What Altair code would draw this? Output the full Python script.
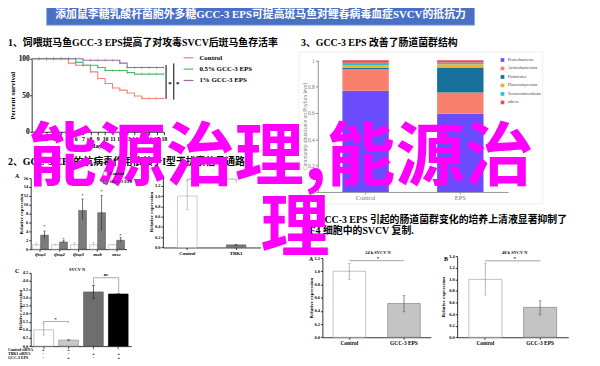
import altair as alt
import pandas as pd

W, H = 592, 358
PAGE_MARGIN = 8


def X(v):
    return v - PAGE_MARGIN


def Y(v):
    return v - PAGE_MARGIN


SERIF = "Liberation Serif"
MIX = "Liberation Serif, Noto Sans CJK SC"
CJK = "Noto Sans CJK SC"

# ------------------------------------------------------------------ texts
banner_text = "添加鼠李糖乳酸杆菌胞外多糖GCC-3 EPS可提高斑马鱼对鲤春病毒血症SVCV的抵抗力"
title_1 = "1、饲喂斑马鱼GCC-3 EPS提高了对攻毒SVCV后斑马鱼存活率"
title_2 = "2、GCC-3 EPS的抗病毒作用依赖于I型干扰素信号通路"
title_3 = "3、GCC-3 EPS 改善了肠道菌群结构"
title_4a = "4、GCC-3 EPS 引起的肠道菌群变化的培养上清液显著抑制了"
title_4b = "ZF4 细胞中的SVCV 复制."
overlay_1 = "能源治理,能源治"
overlay_2 = "理"

# ------------------------------------------------------------------ 1. survival
surv_series = ["Control", "0.5% GCC-3 EPS", "1% GCC-3 EPS"]
ctrl_days = [0, 5, 6, 8, 9, 10, 11, 12, 13, 14, 15, 18]
ctrl_surv = [100, 94, 91, 82, 73, 66, 60, 57, 53, 49, 45.5, 45.5]
low_days = [0, 6, 7, 9, 10, 13, 14, 18]
low_surv = [100, 95, 91, 88, 84, 81, 79, 79]
high_days = [0, 7, 12, 13, 18]
high_surv = [100, 98, 94, 88, 88]
day_ticks = list(range(1, 19))
sig_days = [18.3, 19.35]
sig_low = [45, 44]
sig_high = [91.5, 93.6]
star_days = [18.83, 19.9]
star_vals = [66, 66]

# ------------------------------------------------------------------ 3. phylum
phyla = ["Proteobacteria", "Actinobacteriota", "Firmicutes",
         "Planctomycetota", "Verrucomicrobiota", "others"]
samples = ["Control", "EPS"]
ctrl_phylum = [0.768, 0.165, 0.010, 0.020, 0.017, 0.020]
eps_phylum = [0.593, 0.162, 0.190, 0.025, 0.013, 0.017]

# ------------------------------------------------------------------ 2A. ifn genes
genes = ["ifnφ1", "ifnφ2", "ifnφ3", "mxb", "mxc"]
gene_groups = ["Control", "GCC-3 EPS"]
ifn_ctrl = [1.0, 1.0, 1.0, 1.0, 1.0]
ifn_ctrl_lo = [0.6, 0.85, 0.6, 0.6, 0.95]
ifn_ctrl_hi = [1.4, 1.15, 1.45, 1.5, 1.05]
ifn_eps = [3.15, 1.6, 8.7, 8.2, 2.0]
ifn_eps_lo = [2.4, 1.4, 6.6, 4.1, 1.7]
ifn_eps_hi = [4.1, 1.9, 11.3, 12.1, 2.6]
ifn_star = [5.2, 2.3, 12.3, 13.1, 3.2]

# ------------------------------------------------------------------ 2B. TBK1
tbk_cats = ["Control", "TBK1"]
tbk_vals = [1.0, 0.05]
tbk_lo = [0.73, 0.04]
tbk_hi = [1.30, 0.06]
tbk_bracket = [1.30, 1.33, 1.33, 1.26]

# ------------------------------------------------------------------ 2C. SVCV N with siRNA
lanes = ["1", "2", "3", "4"]
svcv_c = [1.0, 0.37, 3.33, 3.2]
svcv_c_lo = [0.68, 0.33, 2.93, 3.2]
svcv_c_hi = [1.37, 0.42, 3.73, 3.2]
star_bracket_c = [1.40, 1.51, 1.51, 1.40]
ns_bracket_c = [3.78, 4.2, 4.2, 3.25]
sig_c_lanes = ["1", "3"]
sig_c_vals = [1.62, 4.38]
sig_c_text = ["*", "ns"]
row_names = ["Control siRNA", "TBK1 siRNA", "GCC-3 EPS"]
row_ctrl_sirna = ["+", "+", "-", "-"]
row_tbk1_sirna = ["-", "-", "+", "+"]
row_eps = ["-", "+", "-", "+"]

# ------------------------------------------------------------------ 4. supernatant
sup_cats = ["Control", "GCC-3 EPS"]
sup24 = [1.0, 0.51]
sup24_lo = [0.875, 0.385]
sup24_hi = [1.12, 0.63]
sup24_bracket = 1.16
sup48 = [1.0, 0.517]
sup48_lo = [0.73, 0.385]
sup48_hi = [1.28, 0.63]
sup48_bracket = 1.32

# ------------------------------------------------------------------ styles
surv_colors = ["#f0837a", "#4dbb66", "#9a6aa6"]
phy_colors = ["#6c4dfb", "#f8806c", "#16719d", "#f6b12b", "#22c6d3", "#ee4a4e"]


def txt(text, x, y, size, color="black", align="left", weight="bold", font=MIX,
        angle=0, baseline="middle", style="normal"):
    df = pd.DataFrame({"t": [text]})
    return alt.Chart(df).mark_text(
        align=align, baseline=baseline, font=font, fontSize=size, fontWeight=weight,
        color=color, angle=angle, fontStyle=style
    ).encode(x=alt.value(X(x)), y=alt.value(Y(y)), text="t:N")


def y_axis(xpos, values, title, fmt, lsize=4.5, tsize=5, tpad=0.0, color="black",
           weight="bold", tick=2, lpad=1.0):
    return alt.Axis(
        orient="left", offset=-X(xpos), values=values, format=fmt, title=title,
        grid=False, domainColor=color, tickColor=color, labelColor=color, titleColor=color,
        labelFont=SERIF, labelFontSize=lsize, labelFontWeight=weight, titleFont=SERIF,
        titleFontSize=tsize, titleFontWeight=weight, titlePadding=tpad, tickSize=tick,
        labelPadding=lpad, domainWidth=0.8, tickWidth=0.8, labelOverlap=False,
        labelFlush=False, zindex=0)


def x_axis(ypos, title=None, values=None, labels=True, lsize=5.0, tsize=6, tpad=1.0,
           color="black", weight="bold", tick=2, lpad=1.0, style="normal"):
    kw = dict(
        orient="bottom", offset=Y(ypos) - H, title=title, grid=False, labels=labels,
        domainColor=color, tickColor=color, labelColor=color, titleColor=color,
        labelFont=SERIF, labelFontSize=lsize, labelFontWeight=weight, labelFontStyle=style,
        titleFont=SERIF, titleFontSize=tsize, titleFontWeight=weight, titlePadding=tpad,
        tickSize=tick, labelPadding=lpad, domainWidth=0.8, tickWidth=0.8,
        labelOverlap=False, labelFlush=False, labelAngle=0, zindex=0)
    if values is not None:
        kw["values"] = values
    return alt.Axis(**kw)


def simple_bars(cats, vals, lo, hi, xsc, ysc, xax, yax, fills, strokes, ecolors, cap=3):
    df = pd.DataFrame({"cat": cats, "val": vals, "lo": lo, "hi": hi})
    fs = alt.Scale(domain=cats, range=fills)
    ss = alt.Scale(domain=cats, range=strokes)
    es = alt.Scale(domain=cats, range=ecolors)
    bars = alt.Chart(df).mark_bar(strokeWidth=0.6).encode(
        x=alt.X("cat:N", scale=xsc, axis=xax),
        y=alt.Y("val:Q", scale=ysc, axis=yax),
        fill=alt.Fill("cat:N", scale=fs, legend=None),
        stroke=alt.Stroke("cat:N", scale=ss, legend=None))
    err = alt.Chart(df).mark_rule(strokeWidth=0.7).encode(
        x=alt.X("cat:N", scale=xsc, axis=None),
        y=alt.Y("lo:Q", scale=ysc, axis=None), y2="hi:Q",
        color=alt.Color("cat:N", scale=es, legend=None))
    cap_lo = alt.Chart(df).mark_tick(size=cap, thickness=0.7).encode(
        x=alt.X("cat:N", scale=xsc, axis=None),
        y=alt.Y("lo:Q", scale=ysc, axis=None),
        color=alt.Color("cat:N", scale=es, legend=None))
    cap_hi = alt.Chart(df).mark_tick(size=cap, thickness=0.7).encode(
        x=alt.X("cat:N", scale=xsc, axis=None),
        y=alt.Y("hi:Q", scale=ysc, axis=None),
        color=alt.Color("cat:N", scale=es, legend=None))
    return [bars, err, cap_lo, cap_hi]


def bracket(cats, vals, xsc, ysc, color="#888888"):
    df = pd.DataFrame({"cat": cats, "v": vals, "k": list(range(len(cats)))})
    return alt.Chart(df).mark_line(color=color, strokeWidth=0.7).encode(
        x=alt.X("cat:N", scale=xsc, axis=None),
        y=alt.Y("v:Q", scale=ysc, axis=None),
        order="k:Q")


def step_val(days, vals, d):
    v = vals[0]
    for dd, vv in zip(days, vals):
        if dd <= d:
            v = vv
    return v


layers = []

# ---------------- banner & section titles
banner = alt.Chart(pd.DataFrame({"t": [banner_text]})).mark_rect(
    color="#4a70c4", stroke="#8fb0e8", strokeWidth=0.8
).encode(x=alt.value(X(47)), x2=alt.value(X(481)), y=alt.value(Y(2)), y2=alt.value(Y(23)))
layers.append(banner)
layers.append(txt(banner_text, 264, 12.5, 11, color="white", align="center"))
layers.append(txt(title_1, 8, 41, 10))
layers.append(txt(title_3, 305, 41, 10))
layers.append(txt(title_2, 8, 162, 10))
layers.append(txt(title_4a, 306, 220, 10))
layers.append(txt(title_4b, 307, 232, 10))

# faint frame around the phylum panel
frame = alt.Chart(pd.DataFrame({"t": ["frame"]})).mark_rect(
    fill="white", fillOpacity=0, stroke="#ececec", strokeWidth=0.8
).encode(x=alt.value(X(303)), x2=alt.value(X(550)), y=alt.value(Y(50)), y2=alt.value(Y(204)))
layers.append(frame)

# ---------------- 1. survival curves
surv_rows, tick_rows = [], []
for name, days, vals in [(surv_series[0], ctrl_days, ctrl_surv),
                         (surv_series[1], low_days, low_surv),
                         (surv_series[2], high_days, high_surv)]:
    for d, v in zip(days, vals):
        surv_rows.append({"series": name, "day": d, "pct": v})
    for d in day_ticks:
        tick_rows.append({"series": name, "day": d, "pct": step_val(days, vals, d)})
surv_df = pd.DataFrame(surv_rows)
tick_df = pd.DataFrame(tick_rows)
sig_df = pd.DataFrame({"d": sig_days, "lo": sig_low, "hi": sig_high})
star_df = pd.DataFrame({"d": star_days, "v": star_vals})

sx = alt.Scale(domain=[0, 18], range=[X(32), X(166)], nice=False, zero=False)
sy = alt.Scale(domain=[0, 100], range=[Y(131), Y(57)], nice=False, zero=False)
scol = alt.Scale(domain=surv_series, range=surv_colors)

surv_lines = alt.Chart(surv_df).mark_line(interpolate="step-after", strokeWidth=1.1).encode(
    x=alt.X("day:Q", scale=sx, axis=x_axis(131, title="days", values=day_ticks, lsize=6,
                                          tsize=7, tick=3, lpad=0.5, tpad=0.5)),
    y=alt.Y("pct:Q", scale=sy, axis=y_axis(32, [0, 50, 100], "Percent survival", "d",
                                          lsize=7.5, tsize=7, tpad=3, tick=2, lpad=0.5)),
    color=alt.Color("series:N", scale=scol, legend=alt.Legend(
        orient="none", legendX=X(185), legendY=Y(50), title=None, symbolType="stroke",
        symbolSize=100, symbolStrokeWidth=1.2, labelFont=SERIF, labelFontSize=7,
        labelFontWeight="bold", labelColor="black", labelOffset=5, rowPadding=2.5,
        padding=0)))
surv_ticks = alt.Chart(tick_df).mark_tick(orient="vertical", size=3, thickness=0.7).encode(
    x=alt.X("day:Q", scale=sx, axis=None),
    y=alt.Y("pct:Q", scale=sy, axis=None),
    color=alt.Color("series:N", scale=scol, legend=None))
surv_sig = alt.Chart(sig_df).mark_rule(color="black", strokeWidth=1).encode(
    x=alt.X("d:Q", scale=sx, axis=None),
    y=alt.Y("lo:Q", scale=sy, axis=None), y2="hi:Q")
surv_star = alt.Chart(star_df).mark_text(text="*", fontSize=7, font=SERIF, fontWeight="bold").encode(
    x=alt.X("d:Q", scale=sx, axis=None),
    y=alt.Y("v:Q", scale=sy, axis=None))
layers.extend([surv_lines, surv_ticks, surv_sig, surv_star])

# ---------------- 3. stacked phylum bars
phy_rows = []
for s, vals in [(samples[0], ctrl_phylum), (samples[1], eps_phylum)]:
    for i, (p, v) in enumerate(zip(phyla, vals)):
        phy_rows.append({"sample": s, "phylum": p, "ab": v, "k": i})
phy_df = pd.DataFrame(phy_rows)
bx = alt.Scale(domain=samples, range=[X(322), X(515)], paddingInner=0.51, paddingOuter=0.26)
by = alt.Scale(domain=[0, 1], range=[Y(192), Y(58.5)], nice=False)
phy_chart = alt.Chart(phy_df).mark_bar().encode(
    x=alt.X("sample:N", scale=bx, axis=x_axis(192, lsize=6.5, color="#777777", weight="normal",
                                              tick=2, lpad=0.5)),
    y=alt.Y("ab:Q", stack="zero", scale=by,
            axis=y_axis(322, [0, 0.2, 0.4, 0.6, 0.8, 1], "Community abundance on Phylum level",
                        "~g", lsize=5.5, tsize=5.5, tpad=0, color="#777777", weight="normal",
                        tick=2.5, lpad=1)),
    color=alt.Color("phylum:N", scale=alt.Scale(domain=phyla, range=phy_colors),
                    legend=alt.Legend(orient="none", legendX=X(507), legendY=Y(56), title=None,
                                      symbolType="square", symbolSize=14, symbolStrokeWidth=0,
                                      labelFont=SERIF, labelFontSize=4.5, labelColor="#444444",
                                      labelOffset=3, rowPadding=2.6, padding=0)),
    order=alt.Order("k:Q"))
layers.append(phy_chart)

# ---------------- 2A. ifn genes
ifn_rows = []
for i, g in enumerate(genes):
    ifn_rows.append({"gene": g, "grp": gene_groups[0], "val": ifn_ctrl[i],
                     "lo": ifn_ctrl_lo[i], "hi": ifn_ctrl_hi[i]})
    ifn_rows.append({"gene": g, "grp": gene_groups[1], "val": ifn_eps[i],
                     "lo": ifn_eps_lo[i], "hi": ifn_eps_hi[i]})
ifn_df = pd.DataFrame(ifn_rows)
ifn_star_df = pd.DataFrame({"gene": genes, "grp": [gene_groups[1]] * len(genes), "v": ifn_star})
ax_sc = alt.Scale(domain=genes, range=[X(31), X(128)], paddingInner=0.17, paddingOuter=0.1)
ay_sc = alt.Scale(domain=[0, 16], range=[Y(250), Y(178)], nice=False)
off_sc = alt.Scale(domain=gene_groups, paddingInner=0.04)
grp_fill = alt.Scale(domain=gene_groups, range=["#ffffff", "#7b7b7b"])
grp_stroke = alt.Scale(domain=gene_groups, range=["#aaaaaa", "#555555"])
grp_err = alt.Scale(domain=gene_groups, range=["#b5b5b5", "#333333"])
ifn_bars = alt.Chart(ifn_df).mark_bar(strokeWidth=0.6).encode(
    x=alt.X("gene:N", scale=ax_sc, axis=x_axis(250, lsize=5, tick=2, lpad=0.5, style="italic")),
    xOffset=alt.XOffset("grp:N", scale=off_sc),
    y=alt.Y("val:Q", scale=ay_sc, axis=y_axis(31, list(range(0, 17, 2)), "Relative expression", "d",
                                             lsize=4.5, tsize=5, tpad=0, tick=2, lpad=1)),
    fill=alt.Fill("grp:N", scale=grp_fill, legend=alt.Legend(
        orient="none", legendX=X(104), legendY=Y(171), title=None, symbolType="square",
        symbolSize=14, symbolStrokeColor="#666666", symbolStrokeWidth=0.5, labelFont=SERIF,
        labelFontSize=4.5, labelFontWeight="bold", labelColor="black", labelOffset=2,
        rowPadding=1.5, padding=0)),
    stroke=alt.Stroke("grp:N", scale=grp_stroke, legend=None))
ifn_err = alt.Chart(ifn_df).mark_rule(strokeWidth=0.7).encode(
    x=alt.X("gene:N", scale=ax_sc, axis=None),
    xOffset=alt.XOffset("grp:N", scale=off_sc),
    y=alt.Y("lo:Q", scale=ay_sc, axis=None), y2="hi:Q",
    color=alt.Color("grp:N", scale=grp_err, legend=None))
ifn_cap = alt.Chart(ifn_df).mark_tick(size=2.5, thickness=0.7).encode(
    x=alt.X("gene:N", scale=ax_sc, axis=None),
    xOffset=alt.XOffset("grp:N", scale=off_sc),
    y=alt.Y("hi:Q", scale=ay_sc, axis=None),
    color=alt.Color("grp:N", scale=grp_err, legend=None))
ifn_stars = alt.Chart(ifn_star_df).mark_text(text="*", fontSize=5, font=SERIF).encode(
    x=alt.X("gene:N", scale=ax_sc, axis=None),
    xOffset=alt.XOffset("grp:N", scale=off_sc),
    y=alt.Y("v:Q", scale=ay_sc, axis=None))
layers.extend([ifn_bars, ifn_err, ifn_cap, ifn_stars])
layers.append(txt("A", 15, 176, 6, font=SERIF))

# ---------------- 2B. TBK1
tx = alt.Scale(domain=tbk_cats, range=[X(165), X(264)], paddingInner=0.6, paddingOuter=0.3)
ty = alt.Scale(domain=[0, 1.4], range=[Y(248.3), Y(175.3)], nice=False)
layers.extend(simple_bars(
    tbk_cats, tbk_vals, tbk_lo, tbk_hi, tx, ty,
    x_axis(248.3, lsize=5, tick=2, lpad=1),
    y_axis(165, [round(i * 0.2, 1) for i in range(8)], "Relative expression", ".1f",
           lsize=4.5, tsize=5, tpad=1, tick=2, lpad=1),
    ["#ffffff", "#7b7b7b"], ["#aaaaaa", "#555555"], ["#aaaaaa", "#333333"]))
layers.append(bracket(["Control", "Control", "TBK1", "TBK1"], tbk_bracket, tx, ty))

# ---------------- 2C. siRNA
cx = alt.Scale(domain=lanes, range=[X(31), X(133)], paddingInner=0.206, paddingOuter=0.128)
cy = alt.Scale(domain=[0, 4.5], range=[Y(348.3), Y(274)], nice=False)
layers.extend(simple_bars(
    lanes, svcv_c, svcv_c_lo, svcv_c_hi, cx, cy,
    x_axis(348.3, labels=False, tick=2),
    y_axis(31, [round(i * 0.5, 1) for i in range(10)], "Relative expression", ".1f",
           lsize=4.5, tsize=5, tpad=0, tick=2, lpad=1),
    ["#ffffff", "#c8c8c8", "#6e6e6e", "#000000"],
    ["#999999", "#888888", "#555555", "#000000"],
    ["#999999", "#555555", "#222222", "#000000"]))
layers.append(bracket(["1", "1", "2", "2"], star_bracket_c, cx, cy))
layers.append(bracket(["3", "3", "4", "4"], ns_bracket_c, cx, cy))
c_sig_df = pd.DataFrame({"cat": sig_c_lanes, "v": sig_c_vals, "t": sig_c_text})
layers.append(alt.Chart(c_sig_df).mark_text(fontSize=4.5, font=SERIF, fontWeight="bold", dx=12.5).encode(
    x=alt.X("cat:N", scale=cx, axis=None), y=alt.Y("v:Q", scale=cy, axis=None), text="t:N"))

cond_rows = []
for rname, signs in zip(row_names, [row_ctrl_sirna, row_tbk1_sirna, row_eps]):
    for lane, s in zip(lanes, signs):
        cond_rows.append({"cat": lane, "row": rname, "sign": s})
cond_df = pd.DataFrame(cond_rows)
ry = alt.Scale(type="point", domain=row_names, range=[Y(352.3), Y(360.3)], padding=0)
cond_signs = alt.Chart(cond_df).mark_text(fontSize=4.5, font=SERIF, fontWeight="bold").encode(
    x=alt.X("cat:N", scale=cx, axis=None), y=alt.Y("row:N", scale=ry, axis=None), text="sign:N")
cond_names = alt.Chart(pd.DataFrame({"row": row_names})).mark_text(
    fontSize=4, font=SERIF, fontWeight="bold", align="left").encode(
    x=alt.value(0), y=alt.Y("row:N", scale=ry, axis=None), text="row:N")
layers.extend([cond_signs, cond_names])
layers.append(txt("C", 15, 272, 6, font=SERIF))
layers.append(txt("SVCV N", 78, 270.7, 4.5, font=SERIF, align="center"))

# ---------------- 4A. 24 h
ax4 = alt.Scale(domain=sup_cats, range=[X(326.7), X(436.7)], paddingInner=0.404, paddingOuter=0.195)
ay4 = alt.Scale(domain=[0, 1.2], range=[Y(339.3), Y(259)], nice=False)
layers.extend(simple_bars(
    sup_cats, sup24, sup24_lo, sup24_hi, ax4, ay4,
    x_axis(339.3, lsize=5.5, tick=2, lpad=1.5),
    y_axis(326.7, [round(i * 0.2, 1) for i in range(7)], "Relative expression", ".1f",
           lsize=4.5, tsize=5, tpad=0, tick=2, lpad=1),
    ["#ffffff", "#c4c4c4"], ["#9a9a9a", "#777777"], ["#999999", "#555555"]))
layers.append(bracket(sup_cats, [sup24_bracket, sup24_bracket], ax4, ay4, color="#777777"))
layers.append(txt("A", 313, 260, 6, font=SERIF))
layers.append(txt("24 h SVCV N", 383, 254.3, 4.5, font=SERIF, align="center"))
layers.append(txt("*", 383, 259, 5, font=SERIF, align="center"))

# ---------------- 4B. 48 h
bx4 = alt.Scale(domain=sup_cats, range=[X(463.3), X(576)], paddingInner=0.396, paddingOuter=0.213)
by4 = alt.Scale(domain=[0, 1.4], range=[Y(339.3), Y(257.2)], nice=False)
layers.extend(simple_bars(
    sup_cats, sup48, sup48_lo, sup48_hi, bx4, by4,
    x_axis(339.3, lsize=5.5, tick=2, lpad=1.5),
    y_axis(463.3, [round(i * 0.2, 1) for i in range(8)], "Relative expression", ".1f",
           lsize=4.5, tsize=5, tpad=3, tick=2, lpad=1),
    ["#ffffff", "#c4c4c4"], ["#9a9a9a", "#777777"], ["#999999", "#555555"]))
layers.append(bracket(sup_cats, [sup48_bracket, sup48_bracket], bx4, by4, color="#777777"))
layers.append(txt("B", 450, 260, 6, font=SERIF))
layers.append(txt("48 h SVCV N", 521.7, 254.3, 4.5, font=SERIF, align="center"))
layers.append(txt("*", 521.7, 259, 5, font=SERIF, align="center"))

# ---------------- magenta overlay
layers.append(txt(overlay_1, 28, 180, 70, color="#ff00ff", font=CJK, baseline="alphabetic"))
layers.append(txt(overlay_2, 299, 252, 70, color="#ff00ff", font=CJK, align="center",
                  baseline="alphabetic"))

chart = alt.layer(*layers).resolve_scale(
    x="independent", y="independent", color="independent", fill="independent",
    stroke="independent", xOffset="independent"
).resolve_axis(x="independent", y="independent").resolve_legend(
    color="independent", fill="independent", stroke="independent"
).properties(
    width=W, height=H, autosize=alt.AutoSizeParams(type="none"), padding=0, background="white"
).configure_view(strokeWidth=0)

chart.save("out.html", embed_options={"renderer": "svg", "actions": False})
